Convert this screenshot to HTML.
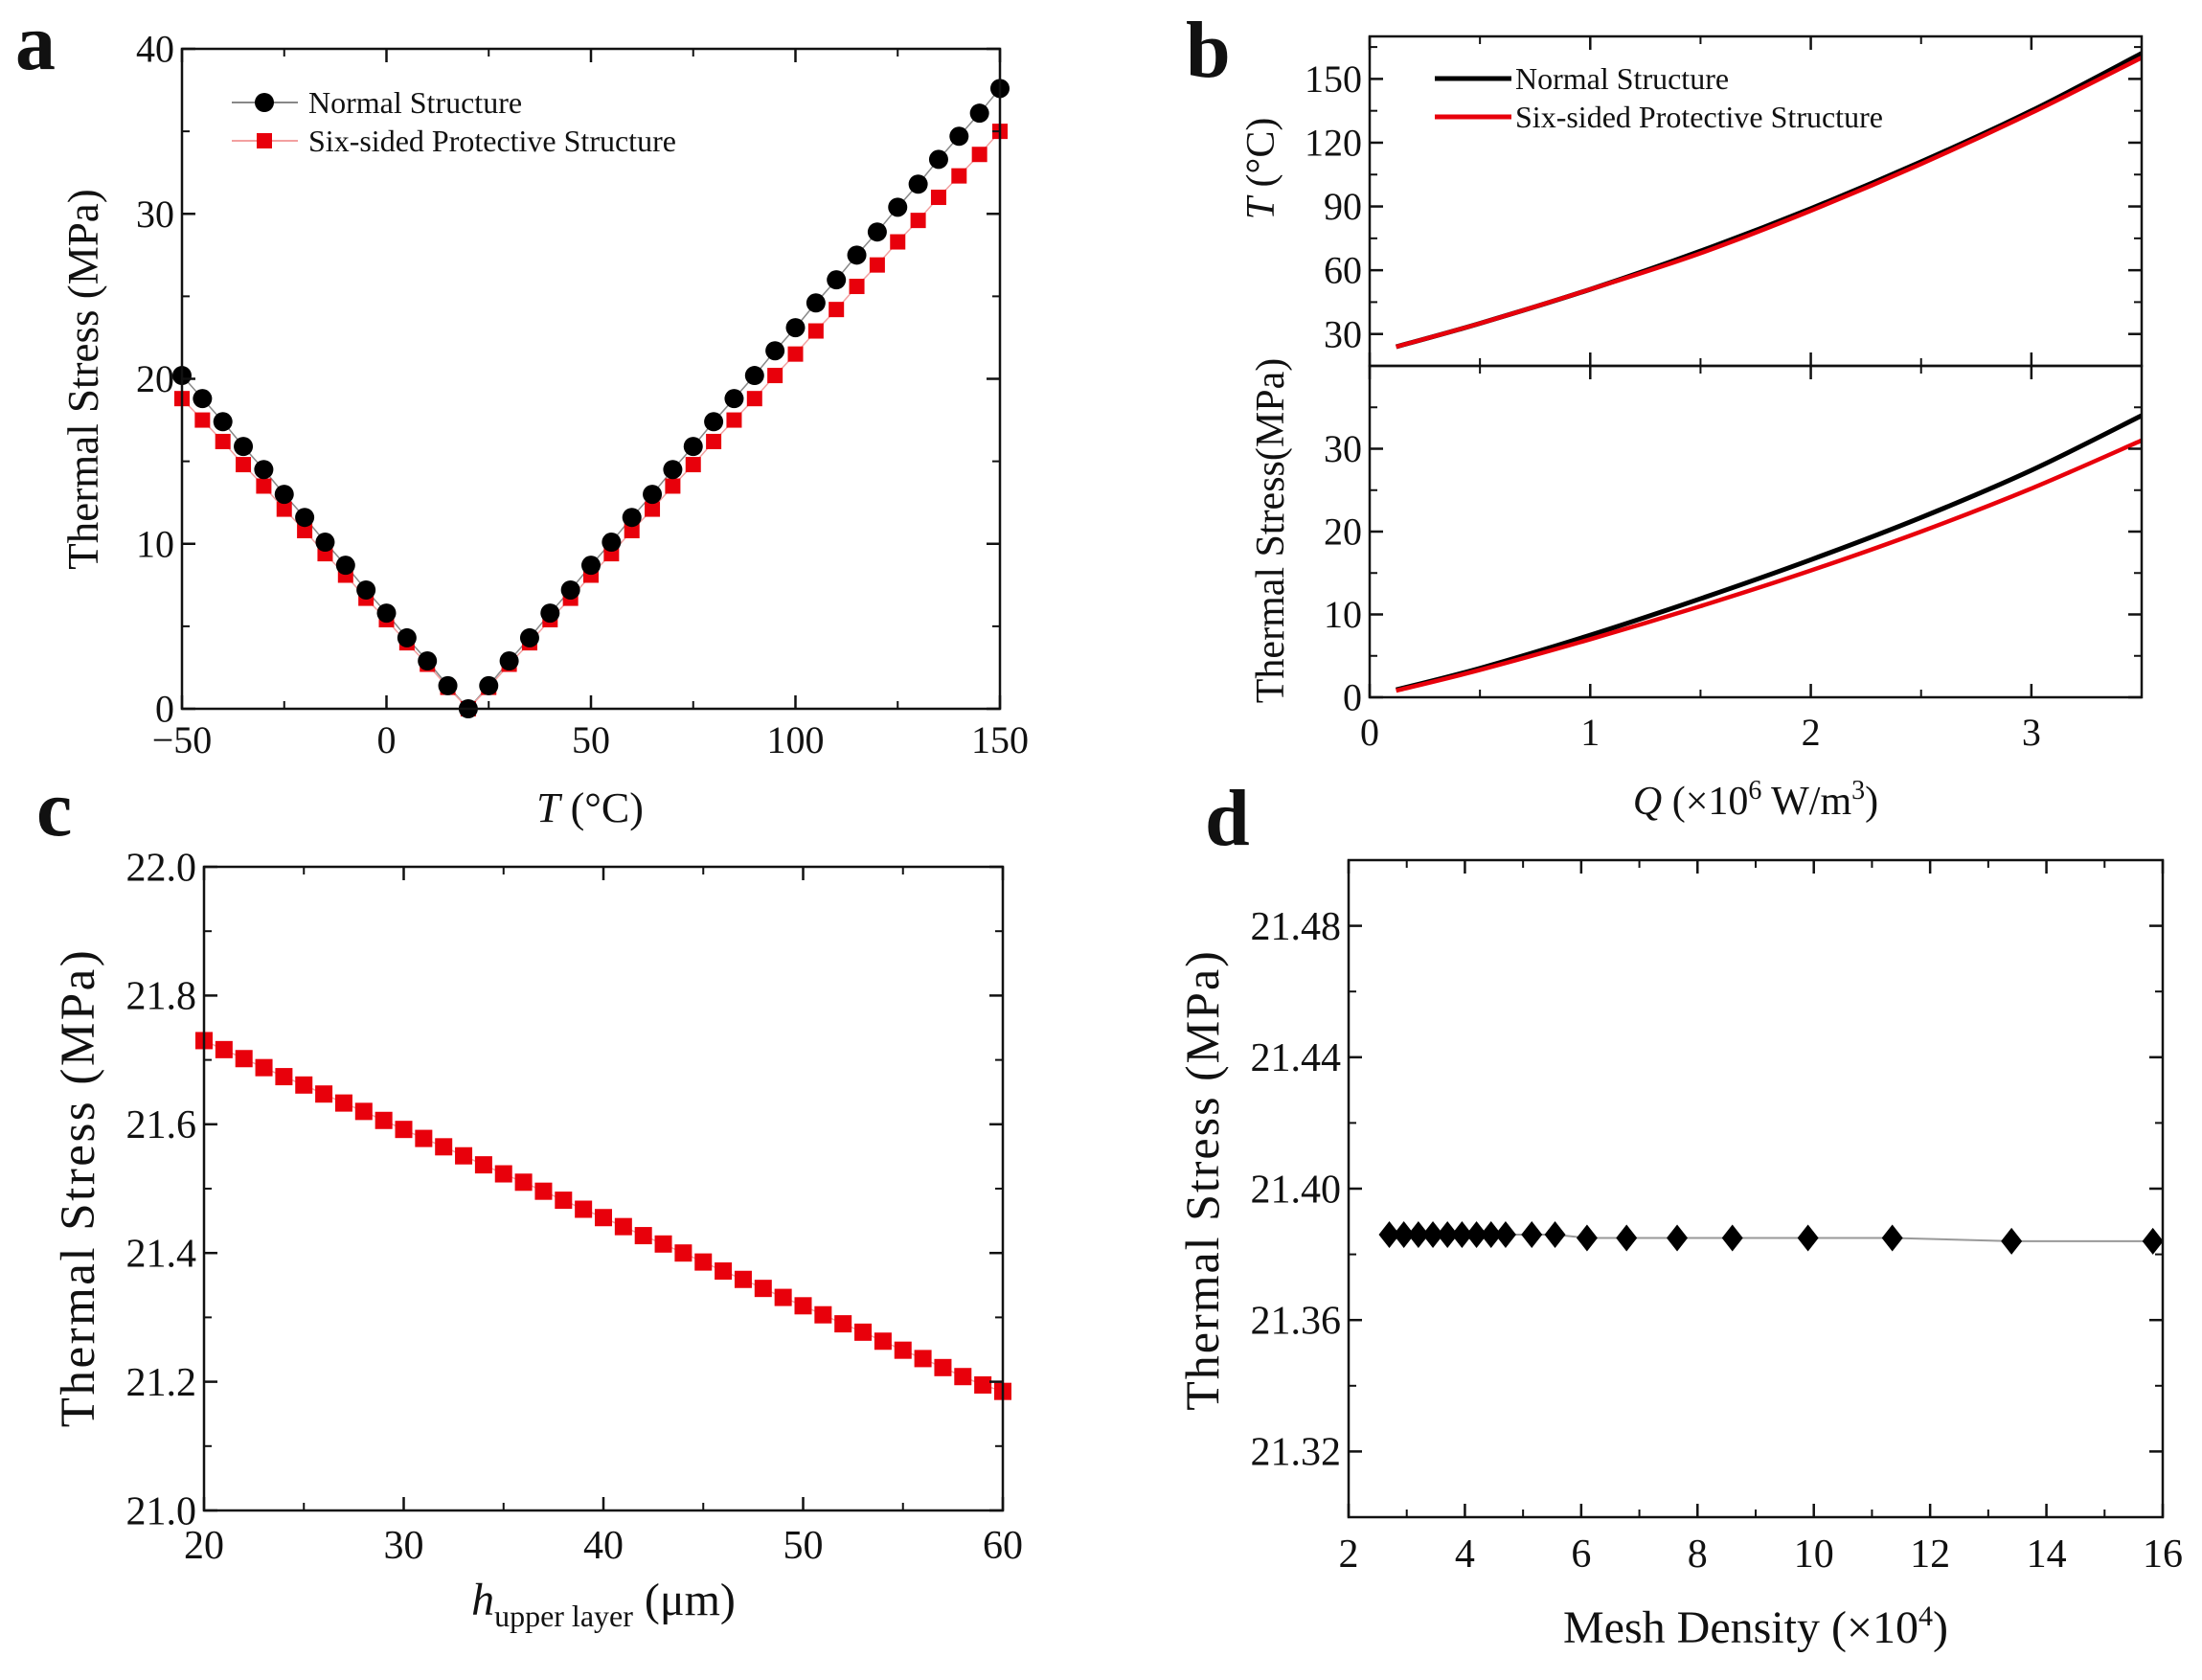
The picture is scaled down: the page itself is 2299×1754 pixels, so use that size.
<!DOCTYPE html>
<html><head><meta charset="utf-8"><style>
html,body{margin:0;padding:0;background:#fff}
svg{display:block}
text{font-family:"Liberation Serif",serif;fill:#111}
</style></head><body>
<svg id="fig" width="2299" height="1754" viewBox="0 0 2299 1754" xmlns="http://www.w3.org/2000/svg" font-family="Liberation Serif, serif">
<text x="16" y="72" font-size="84" font-weight="bold">a</text>
<text x="1238" y="80" font-size="84" font-weight="bold">b</text>
<text x="38" y="872" font-size="84" font-weight="bold">c</text>
<text x="1258" y="882" font-size="84" font-weight="bold">d</text>

<text x="616" y="858" font-size="44" text-anchor="middle"><tspan font-style="italic">T</tspan> (°C)</text>
<text transform="translate(102,396) rotate(-90)" font-size="45" text-anchor="middle">Thermal Stress (MPa)</text>
<text transform="translate(1330,176) rotate(-90)" font-size="42" text-anchor="middle"><tspan font-style="italic">T</tspan> (°C)</text>
<text transform="translate(1340,554) rotate(-90)" font-size="42" text-anchor="middle">Thermal Stress(MPa)</text>
<text x="1833" y="850" font-size="42" text-anchor="middle"><tspan font-style="italic">Q</tspan> (×10<tspan font-size="28" dy="-16">6</tspan><tspan dy="16"> W/m</tspan><tspan font-size="28" dy="-16">3</tspan><tspan dy="16">)</tspan></text>
<text x="630" y="1686" font-size="48" text-anchor="middle"><tspan font-style="italic">h</tspan><tspan font-size="32" dy="12">upper layer</tspan><tspan dy="-12"> (μm)</tspan></text>
<text transform="translate(98,1240) rotate(-90)" font-size="51" text-anchor="middle" letter-spacing="2.5">Thermal Stress (MPa)</text>
<text x="1833" y="1715" font-size="48" text-anchor="middle">Mesh Density (×10<tspan font-size="30" dy="-18">4</tspan><tspan dy="18">)</tspan></text>
<text transform="translate(1272,1232) rotate(-90)" font-size="50" text-anchor="middle" letter-spacing="2">Thermal Stress (MPa)</text>
</svg>
<script>
// ---- Panel a data ----
const aTemps = [-50,-45,-40,-35,-30,-25,-20,-15,-10,-5,0,5,10,15,20,25,30,35,40,45,50,55,60,65,70,75,80,85,90,95,100,105,110,115,120,125,130,135,140,145,150];
const aNormal = [20.2,18.8,17.4,15.9,14.5,13.0,11.6,10.1,8.7,7.2,5.8,4.3,2.9,1.4,0,1.4,2.9,4.3,5.8,7.2,8.7,10.1,11.6,13.0,14.5,15.9,17.4,18.8,20.2,21.7,23.1,24.6,26.0,27.5,28.9,30.4,31.8,33.3,34.7,36.1,37.6];
const aSix = [18.8,17.5,16.2,14.8,13.5,12.1,10.8,9.4,8.1,6.7,5.4,4.0,2.7,1.3,0,1.3,2.7,4.0,5.4,6.7,8.1,9.4,10.8,12.1,13.5,14.8,16.2,17.5,18.8,20.2,21.5,22.9,24.2,25.6,26.9,28.3,29.6,31.0,32.3,33.6,35.0];
const aXTicks = [-50,0,50,100,150];
const aYTicks = [0,10,20,30,40];
// ---- Panel b data ----
const bQ = [0.12,0.5,1,1.5,2,2.5,3,3.5];
const bTNormal = [24,35,51,69,89,111,135,162];
const bTSix = [24,35,51,68,88,110,134,160];
const bSNormal = [0.9,3.5,7.5,11.9,16.6,21.7,27.4,34.0];
const bSSix = [0.8,3.3,7.0,11.0,15.3,20.0,25.2,31.0];
const bXTicks = [0,1,2,3];
const bTopTicks = [30,60,90,120,150];
const bBotTicks = [0,10,20,30];
// ---- Panel c data ----
const cH = [20,21,22,23,24,25,26,27,28,29,30,31,32,33,34,35,36,37,38,39,40,41,42,43,44,45,46,47,48,49,50,51,52,53,54,55,56,57,58,59,60];
const cStress = [21.730,21.716,21.702,21.688,21.674,21.661,21.647,21.633,21.620,21.606,21.592,21.578,21.565,21.551,21.537,21.523,21.510,21.496,21.482,21.468,21.455,21.441,21.427,21.414,21.400,21.386,21.372,21.359,21.345,21.331,21.318,21.304,21.290,21.277,21.263,21.249,21.236,21.222,21.208,21.195,21.185];
const cXTicks = [20,30,40,50,60];
const cYTicks = ["21.0","21.2","21.4","21.6","21.8","22.0"];
// ---- Panel d data ----
const dMesh = [2.7,2.95,3.2,3.45,3.7,3.95,4.2,4.45,4.7,5.15,5.55,6.1,6.78,7.65,8.6,9.9,11.35,13.4,15.83];
const dStress = [21.386,21.386,21.386,21.386,21.386,21.386,21.386,21.386,21.386,21.386,21.386,21.385,21.385,21.385,21.385,21.385,21.385,21.384,21.384];
const dXTicks = [2,4,6,8,10,12,14,16];
const dYTicks = ["21.32","21.36","21.40","21.44","21.48"];

const svg = document.getElementById('fig');
const NS = 'http://www.w3.org/2000/svg';
function mk(tag, attrs){const e=document.createElementNS(NS,tag);for(const k in attrs)e.setAttribute(k,attrs[k]);svg.appendChild(e);return e;}
function scale(d0,d1,r0,r1){return v=>r0+(v-d0)/(d1-d0)*(r1-r0);}

function frame(L,T,R,B,name){
  const r=mk('rect',{x:L,y:T,width:R-L,height:B-T,fill:'none',stroke:'#111','stroke-width':2.5});
  
  
}
function xticks(sx,vals,minor,T,B,fs,labelY,name,fmt,top=true){
  vals.forEach(v=>{
    const x=sx(v);
    const t=mk('line',{x1:x,x2:x,y1:B,y2:B-14,stroke:'#111','stroke-width':2.5});
    
    
    if(top){const t2=mk('line',{x1:x,x2:x,y1:T,y2:T+14,stroke:'#111','stroke-width':2.5});
      
      }
    if(labelY!==null){const l=mk('text',{x:x,y:labelY,'font-size':fs,'text-anchor':'middle'});
      l.textContent=fmt?fmt(v):String(v).replace('-','−');
      
      }
  });
  minor.forEach(v=>{const x=sx(v);
    const m=mk('line',{x1:x,x2:x,y1:B,y2:B-8,stroke:'#111','stroke-width':2});
    
    
    if(top){const m2=mk('line',{x1:x,x2:x,y1:T,y2:T+8,stroke:'#111','stroke-width':2});
      
      }
  });
}
function yticks(sy,vals,minor,L,R,fs,name){
  vals.forEach(v=>{
    const y=sy(parseFloat(v));
    const t=mk('line',{x1:L,x2:L+14,y1:y,y2:y,stroke:'#111','stroke-width':2.5});
    
    
    const t2=mk('line',{x1:R,x2:R-14,y1:y,y2:y,stroke:'#111','stroke-width':2.5});
    
    
    const l=mk('text',{x:L-8,y:y+fs*0.34,'font-size':fs,'text-anchor':'end'});
    l.textContent=String(v);
    
    
  });
  minor.forEach(v=>{const y=sy(v);
    const m=mk('line',{x1:L,x2:L+8,y1:y,y2:y,stroke:'#111','stroke-width':2});
    
    
    const m2=mk('line',{x1:R,x2:R-8,y1:y,y2:y,stroke:'#111','stroke-width':2});
    
    
  });
}
function smoothPath(xs,ys){
  let d='M'+xs[0]+','+ys[0];
  for(let i=0;i<xs.length-1;i++){
    const x0=xs[Math.max(i-1,0)],y0=ys[Math.max(i-1,0)],x1=xs[i],y1=ys[i],x2=xs[i+1],y2=ys[i+1],x3=xs[Math.min(i+2,xs.length-1)],y3=ys[Math.min(i+2,xs.length-1)];
    d+=` C${x1+(x2-x0)/6},${y1+(y2-y0)/6} ${x2-(x3-x1)/6},${y2-(y3-y1)/6} ${x2},${y2}`;
  }
  return d;
}

// ===== Panel a =====
(function(){
  const L=190,R=1044,T=51,B=740;
  const sx=scale(-50,150,L,R), sy=scale(0,40,B,T);
  const pn=mk('polyline',{points:aTemps.map((t,i)=>sx(t)+','+sy(aNormal[i])).join(' '),fill:'none',stroke:'#888','stroke-width':1.5});
  
  
  const ps=mk('polyline',{points:aTemps.map((t,i)=>sx(t)+','+sy(aSix[i])).join(' '),fill:'none',stroke:'#f3a0a0','stroke-width':1.5});
  
  
  aTemps.forEach((t,i)=>{
    const s=mk('rect',{x:sx(t)-8,y:sy(aSix[i])-8,width:16,height:16,fill:'#e8000b'});
    
    
  });
  aTemps.forEach((t,i)=>{
    const c=mk('circle',{cx:sx(t),cy:sy(aNormal[i]),r:10,fill:'#000'});
    
    
  });
  frame(L,T,R,B,'a-plot-frame');
  xticks(sx,aXTicks,[-25,25,75,125],T,B,40,786,'a-x-axis');
  yticks(sy,aYTicks,[5,15,25,35],L,R,40,'a-y-axis');
  const l1=mk('line',{x1:242,x2:311,y1:107,y2:107,stroke:'#888','stroke-width':2});
  
  
  const c1=mk('circle',{cx:276,cy:107,r:10,fill:'#000'});
  
  
  const t1=mk('text',{x:322,y:118,'font-size':32});t1.textContent='Normal Structure';
  
  
  const l2=mk('line',{x1:242,x2:311,y1:147,y2:147,stroke:'#f3a0a0','stroke-width':2});
  
  
  const s2=mk('rect',{x:268,y:139,width:16,height:16,fill:'#e8000b'});
  
  
  const t2=mk('text',{x:322,y:158,'font-size':32});t2.textContent='Six-sided Protective Structure';
  
  
})();

// ===== Panel b =====
(function(){
  const L=1430,R=2236,T=38,M=382,B=728;
  const sx=scale(0,3.5,L,R);
  const syT=scale(15,170,M,T), syB=scale(0,40,B,M);
  const xs=bQ.map(sx);
  const p1=mk('path',{d:smoothPath(xs,bTNormal.map(syT)),fill:'none',stroke:'#000','stroke-width':5});
  
  
  const p2=mk('path',{d:smoothPath(xs,bTSix.map(syT)),fill:'none',stroke:'#e8000b','stroke-width':4.5});
  
  
  const p3=mk('path',{d:smoothPath(xs,bSNormal.map(syB)),fill:'none',stroke:'#000','stroke-width':5});
  
  
  const p4=mk('path',{d:smoothPath(xs,bSSix.map(syB)),fill:'none',stroke:'#e8000b','stroke-width':4.5});
  
  
  frame(L,T,R,M,'b-top-frame');
  frame(L,M,R,B,'b-bottom-frame');
  xticks(sx,bXTicks,[0.5,1.5,2.5],T,M,40,null,'b-top-x-axis');
  xticks(sx,bXTicks,[0.5,1.5,2.5,3.5],M,B,40,778,'b-x-axis');
  yticks(syT,bTopTicks,[45,75,105,135,165],L,R,40,'b-top-y-axis');
  yticks(syB,bBotTicks,[5,15,25,35],L,R,40,'b-bottom-y-axis');
  const l1=mk('line',{x1:1498,x2:1578,y1:82,y2:82,stroke:'#000','stroke-width':5});
  
  
  const t1=mk('text',{x:1582,y:93,'font-size':32});t1.textContent='Normal Structure';
  
  
  const l2=mk('line',{x1:1498,x2:1578,y1:122,y2:122,stroke:'#e8000b','stroke-width':5});
  
  
  const t2=mk('text',{x:1582,y:133,'font-size':32});t2.textContent='Six-sided Protective Structure';
  
  
})();

// ===== Panel c =====
(function(){
  const L=213,R=1047,T=905,B=1577;
  const sx=scale(20,60,L,R), sy=scale(21.0,22.0,B,T);
  const pl=mk('polyline',{points:cH.map((h,i)=>sx(h)+','+sy(cStress[i])).join(' '),fill:'none',stroke:'#f3a0a0','stroke-width':1.5});
  
  
  cH.forEach((h,i)=>{
    const s=mk('rect',{x:sx(h)-9,y:sy(cStress[i])-9,width:18,height:18,fill:'#e8000b'});
    
    
  });
  frame(L,T,R,B,'c-plot-frame');
  xticks(sx,cXTicks,[25,35,45,55],T,B,42,1627,'c-x-axis');
  yticks(sy,cYTicks,[21.1,21.3,21.5,21.7,21.9],L,R,42,'c-y-axis');
})();

// ===== Panel d =====
(function(){
  const L=1408,R=2258,T=898,B=1584;
  const sx=scale(2,16,L,R), sy=scale(21.30,21.50,B,T);
  const pl=mk('polyline',{points:dMesh.map((m,i)=>sx(m)+','+sy(dStress[i])).join(' '),fill:'none',stroke:'#999','stroke-width':2});
  
  
  dMesh.forEach((m,i)=>{
    const x=sx(m),y=sy(dStress[i]);
    const p=mk('polygon',{points:`${x},${y-14} ${x+11},${y} ${x},${y+14} ${x-11},${y}`,fill:'#000'});
    
    
  });
  frame(L,T,R,B,'d-plot-frame');
  xticks(sx,dXTicks,[3,5,7,9,11,13,15],T,B,42,1636,'d-x-axis');
  yticks(sy,dYTicks,[21.30,21.34,21.38,21.42,21.46,21.50],L,R,42,'d-y-axis');
})();
</script>
</body></html>
